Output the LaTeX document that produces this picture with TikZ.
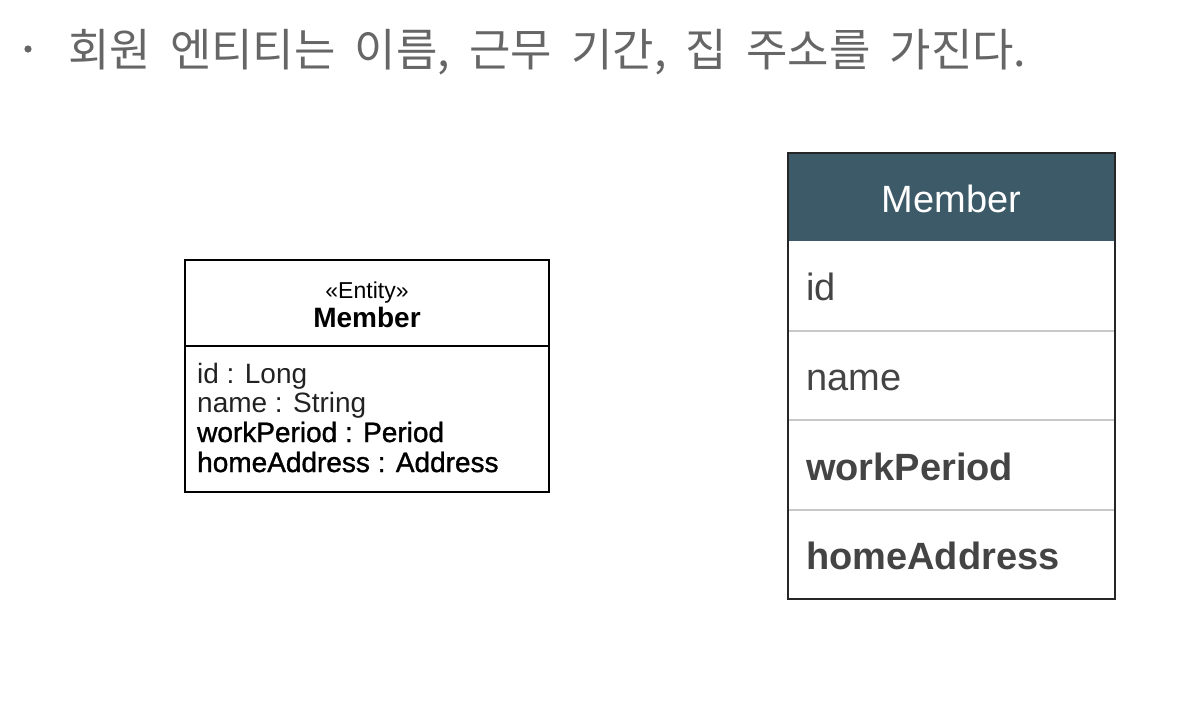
\documentclass[tikz,border=0pt]{standalone}
\usepackage{fontspec}
\setmainfont{Liberation Sans}
\newfontfamily\krfont[WordSpace=1.9]{Noto Sans CJK KR}
\newfontfamily\medfont[FakeBold=1.2]{Liberation Sans}
\definecolor{titlegray}{HTML}{666666}
\definecolor{headfill}{HTML}{3D5A68}
\definecolor{rowtext}{HTML}{444444}
\definecolor{rowline}{HTML}{C8C8C8}
\definecolor{umltext}{HTML}{222222}
\tikzset{
  umlbox/.style={draw=black, line width=1.8pt},
  tbox/.style={draw=black!85, line width=1.3pt},
  rowsep/.style={draw=rowline, line width=2pt},
  attrtext/.style={anchor=base west, inner sep=0pt, font=\fontsize{28}{30}\selectfont, text=umltext},
  rowlabel/.style={anchor=base west, inner sep=0pt, font=\fontsize{38}{44}\selectfont, text=rowtext},
}
\begin{document}
\begin{tikzpicture}[x=1pt,y=-1pt]
\useasboundingbox (0,0) rectangle (1182,702);
% title
\fill[titlegray] (28,49) circle (3.6) coordinate (bul);
\node[anchor=base west, inner sep=0pt, text=titlegray, font=\krfont\fontsize{45}{50}\selectfont] (title) at (68,66) {회원 엔티티는 이름, 근무 기간, 집 주소를 가진다.};

% left UML box
\draw[umlbox] (185,260) rectangle (549,492);
\draw[umlbox] (185,346) -- (549,346);
\node[anchor=base, inner sep=0pt, font=\fontsize{23}{26}\selectfont] (stereo) at (367,298) {«Entity»};
\node[anchor=base, inner sep=0pt, font=\bfseries\fontsize{28}{30}\selectfont] (lname) at (367,327) {Member};
\node[attrtext] (a1) at (197,383) {id : Long};
\node[attrtext] (a2) at (197,412) {name : String};
\node[attrtext, text=black, font=\medfont\fontsize{28}{30}\selectfont] (a3) at (197,442) {workPeriod : Period};
\node[attrtext, text=black, font=\medfont\fontsize{28}{30}\selectfont] (a4) at (197,472) {homeAddress : Address};

% right table
\fill[headfill] (788,153) rectangle (1115,241);
\draw[rowsep] (788,331) -- (1115,331);
\draw[rowsep] (788,420) -- (1115,420);
\draw[rowsep] (788,510) -- (1115,510);
\draw[tbox] (788,153) rectangle (1115,599);
\node[anchor=base, inner sep=0pt, text=white, font=\fontsize{38}{44}\selectfont] (rname) at (951.5,212) {Member};
\node[rowlabel] (r1) at (806,300) {id};
\node[rowlabel] (r2) at (806,390) {name};
\node[rowlabel, font=\bfseries\fontsize{38}{44}\selectfont] (r3) at (806,480) {workPeriod};
\node[rowlabel, font=\bfseries\fontsize{38}{44}\selectfont] (r4) at (806,569) {homeAddress};
\end{tikzpicture}
\end{document}
